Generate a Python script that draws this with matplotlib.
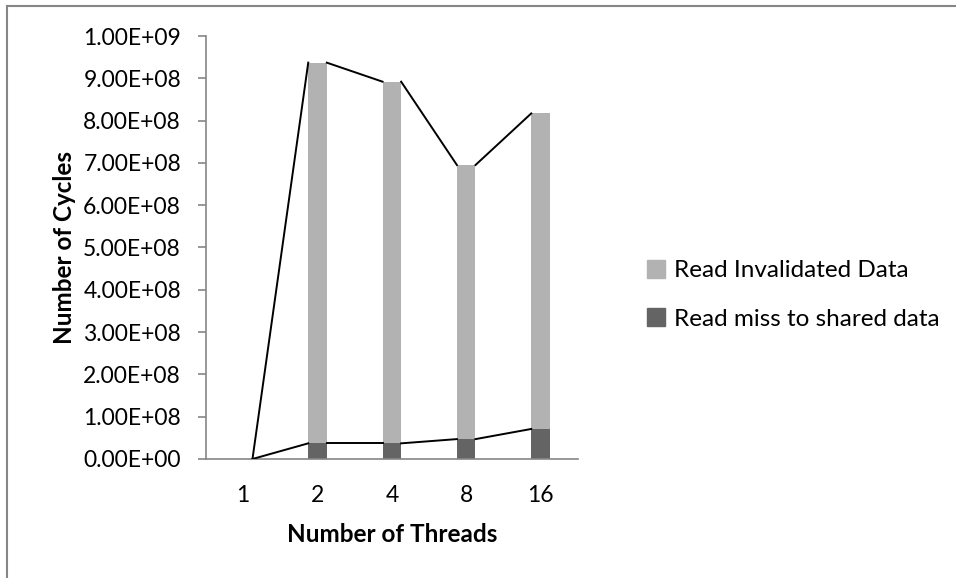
import numpy as np
import matplotlib.pyplot as plt
from matplotlib.lines import Line2D
from matplotlib.patches import Patch

threads = ['1', '2', '4', '8', '16']
# (cycles)
miss_shared = [0, 3.7e7, 3.7e7, 4.7e7, 7.1e7]
invalidated = [0, 9.00e8, 8.55e8, 6.48e8, 7.46e8]

plt.rcParams['font.family'] = ['Lato', 'DejaVu Sans']

fig = plt.figure(figsize=(9.56, 5.78), dpi=100)
ax = fig.add_axes([0.2155, 0.2059, 0.3888, 0.7318])

x = np.arange(len(threads))
w = 0.25
dark = '#646464'
light = '#b2b2b2'
ax.bar(x, miss_shared, w, color=dark, zorder=2)
ax.bar(x, invalidated, w, bottom=miss_shared, color=light, zorder=2)

# series lines from the right edge of one bar to the left edge of the next
tops = np.array(miss_shared) + np.array(invalidated)
for lvl in [np.array(miss_shared), tops]:
    for i in range(len(x) - 1):
        ax.plot([x[i] + w / 2, x[i + 1] - w / 2], [lvl[i], lvl[i + 1]],
                color='black', lw=1.4, zorder=3)

ax.set_xlim(-0.5, 4.5)
ax.set_ylim(0, 1e9)
yt = np.arange(0, 1.01e9, 1e8)
ax.set_yticks(yt)
ax.set_yticklabels(['%.2fE+%02d' % (v / 10 ** int(np.floor(np.log10(v))), int(np.floor(np.log10(v))))
                    if v > 0 else '0.00E+00' for v in yt])
ax.set_xticks(x)
ax.set_xticklabels(threads)

for s in ['top', 'right']:
    ax.spines[s].set_visible(False)
for s in ['left', 'bottom']:
    ax.spines[s].set_color('#868686')
    ax.spines[s].set_linewidth(1.2)
ax.tick_params(axis='y', length=6, color='#868686', width=1.2, labelsize=16.5, pad=12)
ax.tick_params(axis='x', length=0, labelsize=16.5, pad=19)

ax.set_xlabel('Number of Threads', fontsize=17.5, fontweight='bold', labelpad=12)
ax.set_ylabel('Number of Cycles', fontsize=17.5, fontweight='bold', labelpad=5)

handles = [Patch(color=light), Patch(color=dark)]
fig.legend(handles, ['Read Invalidated Data', 'Read miss to shared data'],
           loc='center left', bbox_to_anchor=(0.654, 0.49), frameon=False,
           fontsize=17.5, handlelength=0.75, handleheight=0.75, handletextpad=0.35,
           labelspacing=1.1)

# chart area border (cropped on the right and bottom)
fig.add_artist(Line2D([0.0078, 0.0078], [0, 0.989], color='#868686', lw=1.5))
fig.add_artist(Line2D([0.0078, 1], [0.989, 0.989], color='#868686', lw=1.5))

fig.savefig('out.png', dpi=100)
